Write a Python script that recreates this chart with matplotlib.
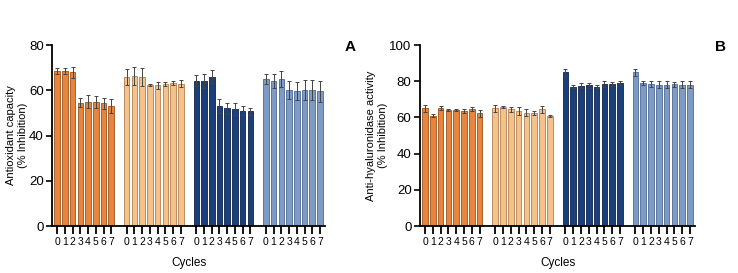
import numpy as np
import matplotlib.pyplot as plt

plt.rcParams['font.family'] = ['Liberation Sans', 'DejaVu Sans']

cycles = ['0', '1', '2', '3', '4', '5', '6', '7']
colors = ['#E8843C', '#F5C28C', '#1B3F7A', '#7E9BC6']
edges = ['#9A5420', '#B08050', '#0E2448', '#4E6A92']

# Panel A: antioxidant capacity
a_means = [
    [68.5, 68.5, 68.0, 54.5, 55.0, 54.8, 54.3, 53.0],
    [66.0, 66.5, 66.0, 62.5, 62.2, 62.8, 63.3, 63.0],
    [64.2, 64.2, 66.0, 53.0, 52.0, 51.8, 51.0, 50.7],
    [65.0, 64.0, 65.0, 60.0, 59.5, 60.0, 60.0, 59.5],
]
a_err = [
    [1.2, 1.5, 2.5, 2.0, 3.0, 2.5, 2.5, 3.0],
    [3.5, 4.0, 4.0, 0.5, 1.5, 0.8, 0.8, 1.5],
    [2.5, 3.0, 2.8, 3.0, 2.5, 2.5, 2.0, 1.5],
    [2.0, 3.0, 3.5, 4.0, 4.0, 4.5, 4.5, 4.5],
]

# Panel B: anti-hyaluronidase activity
b_means = [
    [65.0, 61.0, 65.3, 64.0, 64.3, 63.5, 64.6, 62.2],
    [65.0, 65.9, 64.4, 63.5, 62.6, 62.3, 64.4, 60.8],
    [85.0, 77.0, 77.5, 77.8, 77.0, 78.5, 78.5, 79.0],
    [85.0, 79.0, 78.5, 78.0, 78.0, 78.3, 78.0, 78.0],
]
b_err = [
    [2.0, 1.0, 1.0, 0.7, 0.5, 1.0, 1.0, 1.8],
    [2.0, 0.5, 1.5, 2.0, 2.0, 1.0, 2.0, 0.3],
    [2.0, 1.0, 1.5, 1.5, 1.0, 1.5, 1.0, 1.0],
    [2.0, 1.2, 1.5, 2.0, 2.0, 1.5, 2.0, 2.0],
]

fig = plt.figure(figsize=(7.38, 2.73), dpi=100)
axA = fig.add_axes([0.0705, 0.172, 0.370, 0.663])
axB = fig.add_axes([0.569, 0.172, 0.373, 0.663])


def panel(ax, means, errs, ymax, ystep, ylabel):
    pos = []
    labels = []
    for g in range(len(means)):
        x = np.arange(len(cycles)) + g * 9
        ax.bar(x, means[g], width=0.72, color=colors[g], edgecolor=edges[g],
               linewidth=0.6, yerr=errs[g], capsize=1.5,
               error_kw=dict(ecolor='#444444', elinewidth=0.7, capthick=0.7))
        pos.extend(x)
        labels.extend(cycles)
    ax.set_xticks(pos)
    ax.set_xticklabels(labels, fontsize=7.5)
    ax.set_xlim(-0.66, 34.66)
    ax.set_ylim(0, ymax)
    ax.set_yticks(np.arange(0, ymax + 1, ystep))
    ax.tick_params(axis='y', labelsize=9.5, length=4, width=1.2, pad=2)
    ax.tick_params(axis='x', length=6, width=1.3, pad=2)
    for s in ['top', 'right']:
        ax.spines[s].set_visible(False)
    for s in ['left', 'bottom']:
        ax.spines[s].set_linewidth(1.3)
    ax.set_xlabel('Cycles', fontsize=8.5, labelpad=7)
    ax.set_ylabel(ylabel, fontsize=8, labelpad=1)


panel(axA, a_means, a_err, 80, 20, 'Antioxidant capacity\n(% Inhibition)')
panel(axB, b_means, b_err, 100, 20, 'Anti-hyaluronidase activity\n(% Inhibition)')

fig.text(350 / 738, 1 - 47 / 273, 'A', fontsize=11, fontweight='bold', ha='center', va='center')
fig.text(720 / 738, 1 - 47 / 273, 'B', fontsize=11, fontweight='bold', ha='center', va='center')

fig.savefig('out.png', dpi=100)
